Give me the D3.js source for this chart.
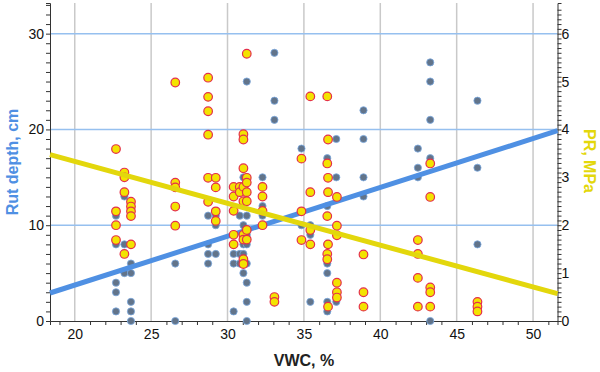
<!DOCTYPE html>
<html>
<head>
<meta charset="utf-8">
<script src="https://cdn.jsdelivr.net/npm/d3@7"></script>
<style>
  body { margin: 0; background: #fff; }
  svg { display: block; font-family: "Liberation Sans", Arial, sans-serif; }
</style>
</head>
<body>
<svg id="chart" width="600" height="372"></svg>
<script>
// Rut depth (cm) vs VWC (%)
const rutData = [
  [22.7, 11], [22.7, 8], [22.7, 4], [22.7, 3], [22.7, 1],
  [23.25, 13], [23.25, 8], [23.25, 5],
  [23.68, 8], [23.68, 6], [23.68, 5], [23.68, 2], [23.68, 1], [23.68, 0],
  [26.58, 6], [26.58, 0],
  [28.73, 11], [28.73, 8], [28.73, 7], [28.73, 6],
  [29.23, 11], [29.23, 10], [29.23, 7],
  [30.4, 7], [30.4, 6], [30.4, 1],
  [30.8, 11], [30.8, 7], [30.8, 6],
  [31.04, 15], [31.04, 10], [31.04, 9], [31.04, 8], [31.04, 7], [31.04, 6], [31.04, 5],
  [31.26, 25], [31.26, 15], [31.26, 11], [31.26, 9], [31.26, 8], [31.26, 6], [31.26, 4], [31.26, 2], [31.26, 0],
  [32.29, 15], [32.29, 12], [32.29, 11],
  [33.07, 28], [33.07, 23], [33.07, 21],
  [34.84, 18], [34.84, 10],
  [35.42, 10], [35.42, 9], [35.42, 2],
  [36.53, 17], [36.53, 12], [36.53, 8], [36.53, 6], [36.53, 5], [36.53, 2], [36.53, 1],
  [37.12, 19], [37.12, 15], [37.12, 2],
  [38.9, 22], [38.9, 19], [38.9, 15], [38.9, 13],
  [42.46, 18], [42.46, 16], [42.46, 15],
  [43.27, 27], [43.27, 25], [43.27, 21], [43.27, 17], [43.27, 16.5], [43.27, 0],
  [46.36, 23], [46.36, 16], [46.36, 8]
];

// Penetration resistance (MPa) vs VWC (%)
const prData = [
  [22.7, 3.59], [22.7, 2.29], [22.7, 2.0], [22.7, 1.69],
  [23.25, 3.1], [23.25, 3.0], [23.25, 2.69], [23.25, 1.4],
  [23.68, 2.49], [23.68, 2.39], [23.68, 2.29], [23.68, 2.19], [23.68, 1.6],
  [26.58, 4.98], [26.58, 2.89], [26.58, 2.79], [26.58, 2.39], [26.58, 1.99],
  [28.73, 5.08], [28.73, 4.68], [28.73, 4.38], [28.73, 3.89], [28.73, 2.99], [28.73, 2.49],
  [29.23, 2.99], [29.23, 2.79], [29.23, 2.29], [29.23, 2.09],
  [30.4, 2.8], [30.4, 2.6], [30.4, 2.3], [30.4, 1.8], [30.4, 1.6],
  [30.8, 2.8], [30.8, 2.69],
  [31.04, 3.9], [31.04, 3.79], [31.04, 3.19], [31.04, 2.8], [31.04, 2.5], [31.04, 1.8], [31.04, 1.7], [31.04, 1.29], [31.04, 1.19],
  [31.26, 5.58], [31.26, 2.99], [31.26, 2.89], [31.26, 2.69], [31.26, 2.5], [31.26, 1.9], [31.26, 1.7],
  [32.29, 2.8], [32.29, 2.6], [32.29, 2.3], [32.29, 2.0],
  [33.07, 0.5], [33.07, 0.4],
  [34.84, 3.39], [34.84, 2.29], [34.84, 1.69],
  [35.42, 4.69], [35.42, 2.69], [35.42, 1.9], [35.42, 1.6],
  [36.53, 4.69], [36.58, 3.79], [36.53, 3.29], [36.58, 2.99], [36.58, 2.69], [36.53, 2.19],
  [36.58, 1.6], [36.53, 1.4], [36.53, 1.29], [36.58, 0.3],
  [37.16, 2.59], [37.16, 1.99], [37.16, 1.79], [37.16, 0.8], [37.16, 0.6], [37.16, 0.49],
  [38.9, 1.39], [38.9, 0.6], [38.9, 0.3],
  [42.46, 1.69], [42.46, 1.4], [42.46, 0.9], [42.46, 0.3],
  [43.27, 3.29], [43.27, 2.59], [43.27, 0.7], [43.27, 0.6], [43.27, 0.3],
  [46.36, 0.4], [46.36, 0.3], [46.36, 0.2]
];

// linear trends: [intercept, slope]
const rutTrend = [-6.45, 0.51];
const prTrend = [5.08, -0.0874];

const xTicks = [20, 25, 30, 35, 40, 45, 50];
const rutTicks = [0, 10, 20, 30];
const prTicks = [0, 1, 2, 3, 4, 5, 6];

const svg = d3.select('#chart');
const plotLeft = 50, plotRight = 557.5, plotTop = 3, plotBottom = 321;

const x = d3.scaleLinear().domain([18.38, 51.6]).range([plotLeft, plotRight]);
const yRut = d3.scaleLinear().domain([0, 33.2]).range([plotBottom, plotTop]);
const yPR = d3.scaleLinear().domain([0, 6.64]).range([plotBottom, plotTop]);

// grid
svg.append('g').selectAll('line')
  .data(xTicks).join('line')
  .attr('x1', d => x(d)).attr('x2', d => x(d))
  .attr('y1', plotTop).attr('y2', plotBottom)
  .attr('stroke', '#c9c9c9').attr('stroke-width', 1.5);

svg.append('g').selectAll('line')
  .data(rutTicks.filter(d => d > 0)).join('line')
  .attr('x1', plotLeft).attr('x2', plotRight)
  .attr('y1', d => yRut(d)).attr('y2', d => yRut(d))
  .attr('stroke', '#96c0ef').attr('stroke-width', 1.5);

// axes
const xAxis = d3.axisBottom(x)
  .tickValues(d3.range(19, 52).filter(d => d % 5 !== 0))
  .tickSize(4).tickFormat('');
svg.append('g').attr('transform', `translate(0,${plotBottom})`).call(xAxis);

svg.append('g').attr('transform', `translate(0,${plotBottom})`)
  .call(d3.axisBottom(x).tickValues(xTicks).tickSize(0).tickPadding(8))
  .call(g => g.select('.domain').remove());

svg.append('g').attr('transform', `translate(${plotLeft},0)`)
  .call(d3.axisLeft(yRut).tickValues(d3.range(0, 34)).tickSize(4).tickFormat(''));
svg.append('g').attr('transform', `translate(${plotLeft},0)`)
  .call(d3.axisLeft(yRut).tickValues(rutTicks).tickSize(0).tickPadding(6))
  .call(g => g.select('.domain').remove());

svg.append('g').attr('transform', `translate(${plotRight},0)`)
  .call(d3.axisRight(yPR).tickValues(d3.range(0, 66).map(d => d / 10)).tickSize(4).tickFormat(''));
svg.append('g').attr('transform', `translate(${plotRight},0)`)
  .call(d3.axisRight(yPR).tickValues(prTicks).tickSize(0).tickPadding(4).tickFormat(d3.format('d')))
  .call(g => g.select('.domain').remove());

svg.selectAll('.domain, .tick line').attr('stroke', '#333');
svg.selectAll('.tick text').attr('font-size', 14).attr('fill', '#111')
  .attr('font-family', '"Liberation Sans", Arial, sans-serif');

// rut points
svg.append('g').selectAll('circle')
  .data(rutData).join('circle')
  .attr('cx', d => x(d[0])).attr('cy', d => yRut(d[1]))
  .attr('r', 3.6)
  .attr('fill', '#62748a').attr('stroke', '#7aa8e0').attr('stroke-width', 0.8);

const [x0, x1] = x.domain();
svg.append('line')
  .attr('x1', x(x0)).attr('y1', yRut(rutTrend[0] + rutTrend[1] * x0))
  .attr('x2', x(x1)).attr('y2', yRut(rutTrend[0] + rutTrend[1] * x1))
  .attr('stroke', '#4f90e3').attr('stroke-width', 5);

// PR points
svg.append('g').selectAll('circle')
  .data(prData).join('circle')
  .attr('cx', d => x(d[0])).attr('cy', d => yPR(d[1]))
  .attr('r', 4.3)
  .attr('fill', '#f3e300').attr('stroke', '#e4304a').attr('stroke-width', 1.2);

svg.append('line')
  .attr('x1', x(x0)).attr('y1', yPR(prTrend[0] + prTrend[1] * x0))
  .attr('x2', x(x1)).attr('y2', yPR(prTrend[0] + prTrend[1] * x1))
  .attr('stroke', '#e3d70c').attr('stroke-width', 5);

// titles
svg.append('text')
  .attr('x', 304).attr('y', 366)
  .attr('text-anchor', 'middle')
  .attr('font-size', 16).attr('font-weight', 'bold').attr('fill', '#222')
  .text('VWC, %');

svg.append('text')
  .attr('transform', 'translate(18,162) rotate(-90)')
  .attr('text-anchor', 'middle')
  .attr('font-size', 16).attr('font-weight', 'bold').attr('fill', '#4f90e3')
  .text('Rut depth, cm');

svg.append('text')
  .attr('transform', 'translate(584,161) rotate(90)')
  .attr('text-anchor', 'middle')
  .attr('font-size', 16).attr('font-weight', 'bold').attr('fill', '#e3d70c')
  .text('PR, MPa');
</script>
</body>
</html>
